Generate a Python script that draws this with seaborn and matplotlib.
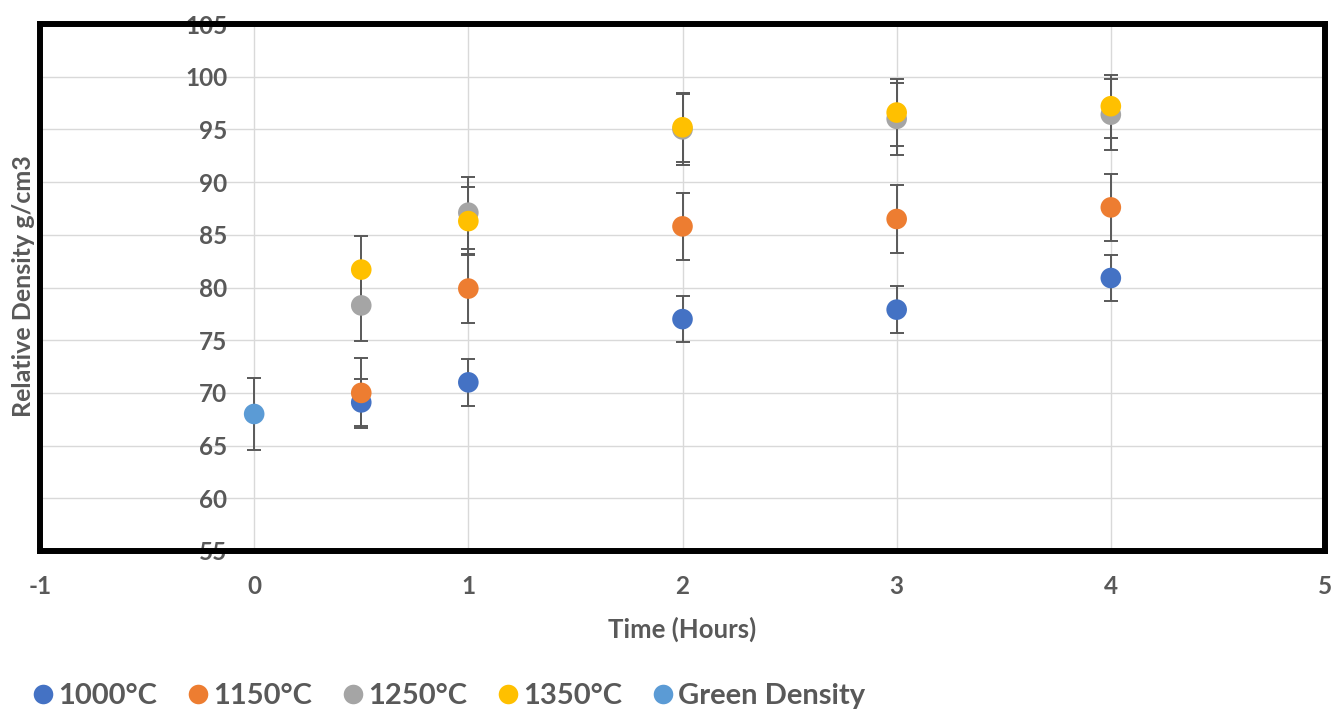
import matplotlib
matplotlib.use("Agg")
import matplotlib.pyplot as plt
import seaborn as sns
import pandas as pd

# Sintering time (hours) and relative density per firing temperature
time_hours = [0.5, 1, 2, 3, 4]
density_1000 = [69.1, 71.0, 77.0, 77.9, 80.9]
error_1000 = [2.2, 2.2, 2.2, 2.2, 2.2]
density_1150 = [70.0, 79.9, 85.8, 86.5, 87.6]
error_1150 = [3.3, 3.3, 3.2, 3.2, 3.2]
density_1250 = [78.3, 87.1, 95.0, 96.0, 96.4]
error_1250 = [3.4, 3.4, 3.4, 3.4, 3.4]
density_1350 = [81.7, 86.3, 95.2, 96.6, 97.2]
error_1350 = [3.2, 3.2, 3.3, 3.2, 3.0]
green_time = [0]
green_density = [68.0]
green_error = [3.4]

series_names = ["1000°C", "1150°C", "1250°C", "1350°C", "Green Density"]
series_colors = ["#4472C4", "#ED7D31", "#A5A5A5", "#FFC000", "#5B9BD5"]

x_ticks = [-1, 0, 1, 2, 3, 4, 5]
y_ticks = [55, 60, 65, 70, 75, 80, 85, 90, 95, 100, 105]

series = [
    (time_hours, density_1000, error_1000),
    (time_hours, density_1150, error_1150),
    (time_hours, density_1250, error_1250),
    (time_hours, density_1350, error_1350),
    (green_time, green_density, green_error),
]

frames = []
for name, (t, d, e) in zip(series_names, series):
    frames.append(pd.DataFrame({"time": t, "density": d, "err": e, "series": name}))
df = pd.concat(frames, ignore_index=True)

sns.set_theme(style="white")
plt.rcParams["font.family"] = ["Lato", "DejaVu Sans"]
plt.rcParams["font.weight"] = "bold"

text_grey = "#595959"

fig = plt.figure(figsize=(13.4, 7.09), dpi=100)
ax = fig.add_axes([40 / 1340, 1 - 551 / 709, 1285 / 1340, 527 / 709])

# error bars sit underneath the markers
for name, color, (t, d, e) in zip(series_names, series_colors, series):
    ax.errorbar(t, d, yerr=e, fmt="none", ecolor=text_grey, elinewidth=1.4,
                capsize=5, capthick=1.4, zorder=2)

sns.scatterplot(data=df, x="time", y="density", hue="series",
                hue_order=series_names, palette=series_colors,
                s=220, edgecolor="none", linewidth=0, ax=ax, zorder=3)

ax.set_xlim(x_ticks[0], x_ticks[-1])
ax.set_ylim(y_ticks[0], y_ticks[-1])
ax.set_xticks(x_ticks)
ax.set_yticks(y_ticks)
ax.set_xticklabels([str(v) for v in x_ticks])
ax.set_yticklabels([str(v) for v in y_ticks])

ax.grid(True, color="#D9D9D9", linewidth=1.0)
ax.set_axisbelow(True)

for sp in ax.spines.values():
    sp.set_visible(True)
    sp.set_color("black")
    sp.set_linewidth(4.3)

ax.tick_params(axis="both", length=0, labelsize=17.5, labelcolor=text_grey)
ax.tick_params(axis="x", pad=17)
# value labels sit beside the x = 0 line, inside the frame
ax.tick_params(axis="y", pad=-135)
for lab in ax.get_xticklabels() + ax.get_yticklabels():
    lab.set_fontweight("bold")

ax.set_xlabel("Time (Hours)", fontsize=18.5, fontweight="bold", color=text_grey)
ax.set_ylabel("Relative Density g/cm3", fontsize=18, fontweight="bold", color=text_grey)
ax.xaxis.set_label_coords(0.5, -0.125)
ax.yaxis.set_label_coords(-0.004, 0.503)

leg = ax.get_legend()
handles = leg.legend_handles
labels = [t.get_text() for t in leg.get_texts()]
leg.remove()
fig.legend(handles, labels, loc="center left", bbox_to_anchor=(32 / 1340, 1 - 696 / 709),
           ncol=5, frameon=False, markerscale=0.95,
           handletextpad=0.15, columnspacing=1.02, borderpad=0, handlelength=0.75,
           borderaxespad=0,
           labelcolor=text_grey, prop={"weight": "bold", "size": 21})

fig.savefig("out.png", dpi=100, facecolor="white")
